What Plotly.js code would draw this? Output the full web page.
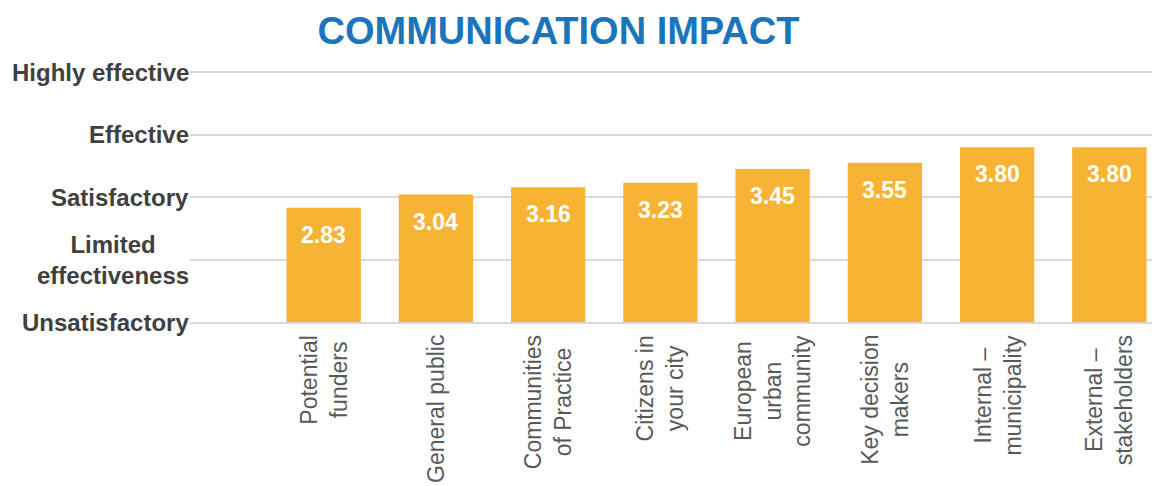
<!DOCTYPE html>
<html>
<head>
<meta charset="utf-8">
<script src="https://cdn.plot.ly/plotly-3.0.1.min.js"></script>
<style>html,body{margin:0;padding:0;background:#fff;}#chart{width:1152px;height:486px;}</style>
</head>
<body>
<div id="chart"></div>
<script>
const categories = ["Potential<br>funders", "General public", "Communities<br>of Practice", "Citizens in<br>your city", "European<br>urban<br>community", "Key decision<br>makers", "Internal –<br>municipality", "External –<br>stakeholders"];
const scores = [2.83, 3.04, 3.16, 3.23, 3.45, 3.55, 3.80, 3.80];
const levelValues = [1, 2, 3, 4, 5];
const levelLabels = ["Unsatisfactory", "Limited<br>effectiveness", "Satisfactory", "Effective", "Highly effective"];

const FONT = "Liberation Sans, Arial, sans-serif";
const xIdx = categories.map((c, i) => i);

const trace = {
  type: "bar",
  x: xIdx,
  y: scores,
  width: 0.662,
  marker: {color: "#F7B334"},
  hoverinfo: "skip"
};

const annotations = [];
// value labels
scores.forEach((v, i) => {
  annotations.push({
    x: i, y: v, xref: "x", yref: "y",
    text: v.toFixed(2), showarrow: false,
    xanchor: "center", yanchor: "top", yshift: -12,
    font: {family: FONT, size: 23, color: "#ffffff", weight: "bold"}
  });
});
// category labels
categories.forEach((c, i) => {
  annotations.push({
    x: i, y: 0, xref: "x", yref: "paper",
    text: c, showarrow: false, textangle: -90,
    xanchor: "center", yanchor: "top", yshift: -11, align: "center",
    font: {family: FONT, size: 23, color: "#595959"}
  });
});
// level labels
levelValues.forEach((v, i) => {
  annotations.push({
    x: 0, y: v, xref: "paper", yref: "y",
    text: "<b>" + levelLabels[i] + "</b>", showarrow: false,
    xanchor: "right", yanchor: "middle", align: "center", xshift: 1,
    font: {family: FONT, size: 24, color: "#404040"}
  });
});

const layout = {
  width: 1152, height: 486,
  margin: {l: 190, r: 0, t: 66, b: 164, pad: 0},
  paper_bgcolor: "#ffffff", plot_bgcolor: "#ffffff",
  showlegend: false,
  title: {
    text: "<b>COMMUNICATION IMPACT</b>",
    xref: "container", yref: "container",
    x: 0.4848, y: 0.936, xanchor: "center", yanchor: "middle",
    font: {family: FONT, size: 38, color: "#1B75BC"}
  },
  xaxis: {
    range: [-1.191, 7.38],
    showticklabels: false, showgrid: false, zeroline: false,
    showline: true, linecolor: "#D9D9D9", linewidth: 2,
    ticks: "", fixedrange: true
  },
  yaxis: {
    range: [1, 5.1],
    tickvals: levelValues, showticklabels: false,
    showgrid: true, gridcolor: "#D9D9D9", gridwidth: 2,
    zeroline: false, showline: false, ticks: "", fixedrange: true
  },
  annotations: annotations
};

Plotly.newPlot("chart", [trace], layout, {displayModeBar: false, staticPlot: true});
</script>
</body>
</html>
